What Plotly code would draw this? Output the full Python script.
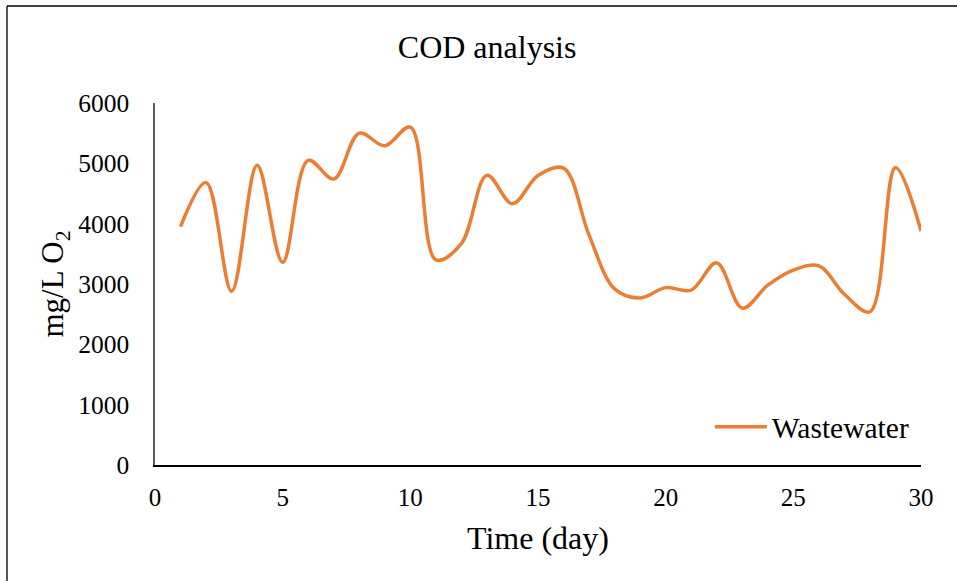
import plotly.graph_objects as go

days = list(range(1, 31))
cod_wastewater = [3950, 4680, 2880, 4970, 3360, 5050, 4740, 5500, 5290, 5600,
                  3400, 3670, 4800, 4330, 4800, 4920, 3810, 2920, 2770, 2940,
                  2900, 3350, 2600, 2980, 3230, 3300, 2830, 2540, 4930, 3880]
x_ticks = [0, 5, 10, 15, 20, 25, 30]
y_ticks = [0, 1000, 2000, 3000, 4000, 5000, 6000]

FONT = "Liberation Serif, Times New Roman, serif"

fig = go.Figure()
fig.add_trace(go.Scatter(
    x=days, y=cod_wastewater, mode="lines", name="Wastewater",
    line=dict(color="#ED7D31", width=3.5, shape="spline", smoothing=1.0),
))

L, R, T, B = 155, 36, 103, 116
W, H = 957, 581
pw, ph = W - L - R, H - T - B

def px2paper_x(px):
    return (px - L) / pw

def px2paper_y(py):
    return (H - B - py) / ph

fig.update_layout(
    width=W, height=H,
    margin=dict(l=L, r=R, t=T, b=B),
    paper_bgcolor="white", plot_bgcolor="white",
    font=dict(family=FONT, color="black", size=25),
    title=dict(text="COD analysis", x=0.509, xref="container", xanchor="center",
               y=1 - 47 / H, yref="container", yanchor="middle",
               font=dict(size=32, family=FONT, color="black")),
    showlegend=True,
    legend=dict(x=0.992, xanchor="right", y=px2paper_y(427), yanchor="middle",
                font=dict(size=29.5, family=FONT), bgcolor="rgba(0,0,0,0)",
                itemwidth=52),
    xaxis=dict(range=[0, 30], tickvals=x_ticks, showgrid=False, zeroline=False,
               showline=True, linecolor="black", linewidth=1.5,
               ticks="", ticklabelstandoff=9,
               tickfont=dict(size=25, family=FONT),
               title=dict(text="Time (day)", font=dict(size=32, family=FONT), standoff=17)),
    yaxis=dict(range=[0, 6000], tickvals=y_ticks, showgrid=False, zeroline=False,
               showline=True, linecolor="#595959", linewidth=1.5,
               ticks="", ticklabelstandoff=19,
               tickfont=dict(size=25.5, family=FONT),
               title=dict(text="mg/L O<sub>2</sub>", font=dict(size=31, family=FONT), standoff=5)),
    shapes=[
        dict(type="line", xref="paper", yref="paper",
             x0=px2paper_x(7), x1=px2paper_x(7), y0=px2paper_y(6), y1=px2paper_y(581),
             line=dict(color="#595959", width=2)),
        dict(type="line", xref="paper", yref="paper",
             x0=px2paper_x(7), x1=px2paper_x(957), y0=px2paper_y(6), y1=px2paper_y(6),
             line=dict(color="black", width=1.5)),
    ],
)

fig.write_html("out.html", config={"displayModeBar": False},
               post_script="document.body.style.margin='0';")
